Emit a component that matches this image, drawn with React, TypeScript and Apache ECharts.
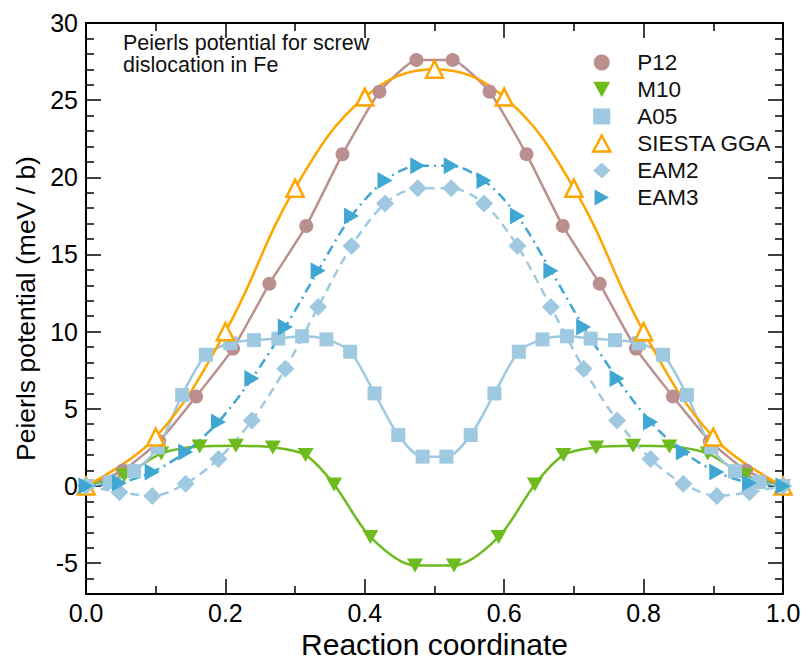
import React, { useEffect, useRef } from "react";
import * as echarts from "echarts";

// ---- data ----
const P12_X = [0, 0.053, 0.105, 0.158, 0.211, 0.263, 0.316, 0.368, 0.421, 0.474, 0.526, 0.579, 0.632, 0.684, 0.737, 0.789, 0.842, 0.895, 0.947, 1];
const P12_Y = [0, 1.0, 2.9, 5.8, 8.9, 13.1, 16.85, 21.5, 25.55, 27.6, 27.6, 25.55, 21.5, 16.85, 13.1, 8.9, 5.8, 2.9, 1.0, 0];

const M10_X = [0, 0.055, 0.108, 0.163, 0.215, 0.268, 0.315, 0.356, 0.408, 0.472, 0.528, 0.592, 0.644, 0.685, 0.732, 0.785, 0.837, 0.892, 0.945, 1];
const M10_Y = [0, 0.7, 2.1, 2.55, 2.6, 2.5, 2.0, 0.1, -3.3, -5.15, -5.15, -3.3, 0.1, 2.0, 2.5, 2.6, 2.55, 2.1, 0.7, 0];

const A05_X = [0, 0.034, 0.069, 0.103, 0.138, 0.172, 0.207, 0.241, 0.276, 0.31, 0.345, 0.379, 0.414, 0.448, 0.483, 0.517, 0.552, 0.586, 0.621, 0.655, 0.69, 0.724, 0.759, 0.793, 0.828, 0.862, 0.897, 0.931, 0.966, 1];
const A05_Y = [0, 0.25, 0.96, 2.5, 5.9, 8.5, 9.25, 9.45, 9.55, 9.7, 9.5, 8.7, 6.0, 3.3, 1.9, 1.9, 3.3, 6.0, 8.7, 9.5, 9.7, 9.55, 9.45, 9.25, 8.5, 5.9, 2.5, 0.96, 0.25, 0];

const SIESTA_X = [0, 0.1, 0.2, 0.3, 0.4, 0.5, 0.6, 0.7, 0.8, 0.9, 1];
const SIESTA_Y = [0, 3.17, 10.0, 19.3, 25.2, 27.0, 25.2, 19.3, 10.0, 3.17, 0];

const EAM_X = [0, 0.048, 0.095, 0.143, 0.19, 0.238, 0.286, 0.333, 0.381, 0.429, 0.476, 0.524, 0.571, 0.619, 0.667, 0.714, 0.762, 0.81, 0.857, 0.905, 0.952, 1];
const EAM2_Y = [0, -0.4, -0.65, 0.15, 1.75, 4.25, 7.6, 11.6, 15.55, 18.3, 19.3, 19.3, 18.3, 15.55, 11.6, 7.6, 4.25, 1.75, 0.15, -0.65, -0.4, 0];
const EAM3_Y = [0, 0.2, 0.9, 2.2, 4.15, 6.96, 10.3, 13.95, 17.5, 19.8, 20.75, 20.75, 19.8, 17.5, 13.95, 10.3, 6.96, 4.15, 2.2, 0.9, 0.2, 0];

const Y_MAJOR = [-5, 0, 5, 10, 15, 20, 25, 30];
const Y_MINOR = [-7, -6, -4, -3, -2, -1, 1, 2, 3, 4, 6, 7, 8, 9, 11, 12, 13, 14, 16, 17, 18, 19, 21, 22, 23, 24, 26, 27, 28, 29];

const TITLE = "Peierls potential for screw\ndislocation in Fe";
const X_NAME = "Reaction coordinate";
const Y_NAME = "Peierls potential (meV / b)";

const FONT = "'Liberation Sans', Arial, Helvetica, sans-serif";
const SYM_DOWN = "path://M0,0L10,0L5,9Z";
const SYM_RIGHT = "path://M0,0L9,5L0,10Z";

const C_P12 = "#bc8f8f";
const C_M10 = "#6dbb1e";
const C_A05 = "#9fc9e1";
const C_SIESTA = "#ffa500";
const C_EAM2 = "#9fc9e1";
const C_EAM3 = "#3fa7d1";

function zip(xs: number[], ys: number[]) {
  return xs.map((x, i) => [x, ys[i]]);
}

export default function App() {
  const ref = useRef<HTMLDivElement>(null);
  useEffect(() => {
    if (!ref.current) return;
    const chart = echarts.init(ref.current, undefined, { renderer: "svg" });
    const axisLine = { show: true, onZero: false, lineStyle: { color: "#000", width: 2 } };
    const noLine = { show: false, onZero: false };
    const tickStyle = { color: "#000", width: 1.5 };
    const yBase = { type: "value", min: -7, max: 30, splitLine: { show: false } };
    const option: any = {
      animation: false,
      backgroundColor: "#fff",
      title: {
        text: TITLE,
        left: 118,
        top: 27,
        textStyle: { fontSize: 21.5, fontWeight: "normal", lineHeight: 22, fontFamily: FONT, color: "#111" },
      },
      legend: {
        orient: "vertical",
        left: 587,
        top: 46,
        itemWidth: 17,
        itemHeight: 16,
        itemGap: 4,
        textStyle: { fontSize: 22.5, lineHeight: 22, fontFamily: FONT, color: "#111", padding: [0, 0, 0, 22] },
        data: [
          { name: "P12", icon: "circle" },
          { name: "M10", icon: SYM_DOWN },
          { name: "A05", icon: "rect" },
          { name: "SIESTA GGA", icon: "triangle", itemStyle: { color: "#fff", borderColor: C_SIESTA, borderWidth: 2.5 } },
          { name: "EAM2", icon: "diamond" },
          { name: "EAM3", icon: SYM_RIGHT },
        ],
      },
      grid: { left: 86, right: 22, top: 23, bottom: 68, containLabel: false, outerBoundsMode: "none" },
      xAxis: [
        {
          type: "value",
          min: 0,
          max: 1,
          interval: 0.2,
          position: "bottom",
          name: X_NAME,
          nameLocation: "middle",
          nameGap: 23,
          nameTextStyle: { fontSize: 30, fontFamily: FONT, color: "#000" },
          axisLine,
          axisTick: { show: true, inside: true, length: 15, lineStyle: tickStyle },
          minorTick: { show: true, splitNumber: 2, length: 8, lineStyle: tickStyle },
          axisLabel: { fontSize: 25, fontFamily: FONT, color: "#000", margin: 6, formatter: (v: number) => v.toFixed(1) },
          splitLine: { show: false },
          minorSplitLine: { show: false },
        },
        {
          type: "value",
          min: 0,
          max: 1,
          interval: 0.2,
          position: "top",
          axisLine,
          axisTick: { show: true, inside: true, length: 15, lineStyle: tickStyle },
          minorTick: { show: true, splitNumber: 2, length: 8, lineStyle: tickStyle },
          axisLabel: { show: false },
          splitLine: { show: false },
        },
      ],
      yAxis: [
        {
          ...yBase,
          position: "left",
          name: Y_NAME,
          nameLocation: "middle",
          nameGap: 45,
          nameTextStyle: { fontSize: 26.5, fontFamily: FONT, color: "#000" },
          axisLine,
          axisTick: { show: true, inside: true, length: 15, lineStyle: tickStyle, customValues: Y_MAJOR },
          axisLabel: { fontSize: 25, fontFamily: FONT, color: "#000", margin: 8, customValues: Y_MAJOR },
        },
        {
          ...yBase,
          position: "right",
          axisLine,
          axisTick: { show: true, inside: true, length: 15, lineStyle: tickStyle, customValues: Y_MAJOR },
          axisLabel: { show: false },
        },
        {
          ...yBase,
          position: "left",
          axisLine: noLine,
          axisTick: { show: true, inside: true, length: 8, lineStyle: tickStyle, customValues: Y_MINOR },
          axisLabel: { show: false },
        },
        {
          ...yBase,
          position: "right",
          axisLine: noLine,
          axisTick: { show: true, inside: true, length: 8, lineStyle: tickStyle, customValues: Y_MINOR },
          axisLabel: { show: false },
        },
      ],
      series: [
        {
          name: "P12",
          type: "line",
          data: zip(P12_X, P12_Y),
          symbol: "circle",
          symbolSize: 14,
          smooth: 0.15,
          clip: false,
          itemStyle: { color: C_P12 },
          lineStyle: { color: C_P12, width: 2.5 },
        },
        {
          name: "M10",
          type: "line",
          data: zip(M10_X, M10_Y),
          symbol: SYM_DOWN,
          symbolSize: [16, 14],
          smooth: 0.3,
          clip: false,
          itemStyle: { color: C_M10 },
          lineStyle: { color: C_M10, width: 2.5 },
        },
        {
          name: "A05",
          type: "line",
          data: zip(A05_X, A05_Y),
          symbol: "rect",
          symbolSize: 14,
          smooth: 0.3,
          clip: false,
          itemStyle: { color: C_A05 },
          lineStyle: { color: C_A05, width: 2.5 },
        },
        {
          name: "SIESTA GGA",
          type: "line",
          data: zip(SIESTA_X, SIESTA_Y),
          symbol: "triangle",
          symbolSize: 17,
          smooth: 0.4,
          clip: false,
          itemStyle: { color: "#fff", borderColor: C_SIESTA, borderWidth: 2.5 },
          lineStyle: { color: C_SIESTA, width: 2.5 },
        },
        {
          name: "EAM2",
          type: "line",
          data: zip(EAM_X, EAM2_Y),
          symbol: "diamond",
          symbolSize: 18,
          smooth: 0.3,
          clip: false,
          itemStyle: { color: C_EAM2 },
          lineStyle: { color: C_EAM2, width: 2.5, type: [9, 6] },
        },
        {
          name: "EAM3",
          type: "line",
          data: zip(EAM_X, EAM3_Y),
          symbol: SYM_RIGHT,
          symbolSize: [15, 17],
          smooth: 0.3,
          clip: false,
          itemStyle: { color: C_EAM3 },
          lineStyle: { color: C_EAM3, width: 2.5, type: [10, 5, 2, 5] },
        },
      ],
    };
    chart.setOption(option);
    return () => chart.dispose();
  }, []);
  return <div ref={ref} style={{ position: "absolute", left: 0, top: 0, width: 805, height: 662 }} />;
}
